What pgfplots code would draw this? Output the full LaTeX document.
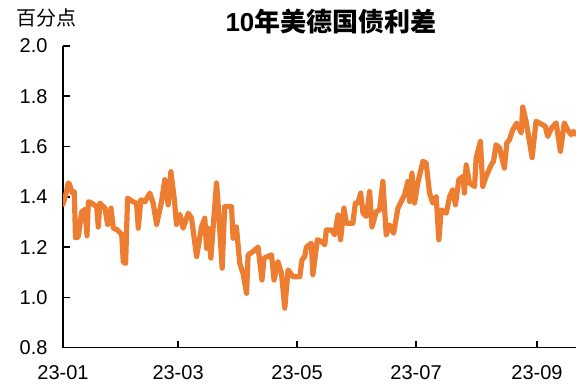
\documentclass[border=0pt]{standalone}
\usepackage{fontspec}
\setmainfont{Liberation Sans}
\newfontfamily\cjk{Noto Sans CJK SC}
\usepackage{pgfplots}
\usepackage{pgfplotstable}
\pgfplotsset{compat=1.18}

\definecolor{spreadorange}{RGB}{237,125,49}

% day = days since 2023-01-01, val = spread in percentage points
\pgfplotstableread{
day val
0 1.37
1.5 1.41
2.7 1.455
3.3 1.45
4.8 1.415
5.8 1.42
6.4 1.237
7.8 1.24
9.6 1.34
11.3 1.35
12.3 1.245
13 1.38
14.7 1.375
17.3 1.36
18.1 1.28
18.9 1.375
21.5 1.355
22.9 1.29
24.6 1.355
25.8 1.275
27.5 1.27
30.1 1.25
30.9 1.14
32.1 1.135
33.1 1.395
36 1.38
37.7 1.375
38.6 1.275
39.9 1.388
42 1.38
44.5 1.415
46.2 1.375
48 1.29
50.5 1.38
52.2 1.468
53.9 1.368
55.3 1.50
57 1.395
58.2 1.29
59.9 1.33
61.6 1.275
64.2 1.335
65.9 1.315
68.5 1.162
71 1.28
72.7 1.315
73.6 1.195
74.4 1.275
75.8 1.156
78.7 1.455
79.5 1.375
81.6 1.116
82.9 1.361
86.4 1.361
87.2 1.235
88.9 1.28
90.6 1.136
92.3 1.096
94.1 1.016
94.9 1.169
97.4 1.182
100 1.20
102 1.069
103.1 1.156
106.9 1.169
108.2 1.069
110.2 1.142
112 1.096
113.7 0.957
115.4 1.109
117.9 1.082
121.4 1.082
122.5 1.149
123.9 1.162
124.8 1.20
127.3 1.215
128.1 1.09
130.4 1.229
132.5 1.222
134.2 1.209
135 1.268
137.6 1.268
139.3 1.249
141 1.328
142.3 1.229
144 1.355
145.3 1.295
148.6 1.295
149.9 1.375
151.2 1.375
152.6 1.415
153.8 1.335
155.5 1.322
157.2 1.421
158.4 1.28
160.6 1.341
162.3 1.348
164 1.461
165.7 1.249
167.4 1.288
169.5 1.255
171.7 1.355
173.4 1.381
175.1 1.408
176.8 1.461
177.7 1.381
178.9 1.494
180.2 1.375
181.9 1.455
184.5 1.541
186.2 1.534
187.9 1.415
189.6 1.375
191.3 1.401
192.7 1.229
193.9 1.348
196.5 1.335
198.2 1.401
199.8 1.428
201.2 1.368
202.9 1.468
205 1.481
205.8 1.415
206.7 1.527
208.4 1.455
211 1.441
211.8 1.554
214 1.620
215.2 1.441
216.9 1.481
219.5 1.527
220.7 1.541
222 1.607
223.8 1.594
226.3 1.514
227.5 1.614
228.9 1.627
230.6 1.667
232.6 1.693
234.9 1.654
235.7 1.757
237.4 1.70
240.5 1.556
242.5 1.70
245.1 1.69
247.3 1.68
248.5 1.640
250.5 1.674
252.8 1.694
255 1.581
257 1.694
258.7 1.667
260.5 1.647
261.6 1.660
262.7 1.65
}\spread

\begin{document}
\begin{tikzpicture}
\path[use as bounding box] (-63pt,-37.4pt) rectangle (513pt,347.6pt);
\begin{axis}[
  at={(0,0)}, anchor=south west,
  scale only axis,
  width=513pt, height=301.6pt,
  xmin=0, xmax=263,
  ymin=0.8, ymax=2.0,
  axis x line=bottom, axis y line=left,
  axis line style={-, line width=1.6pt, black},
  xtick={0,59,120,181,243},
  xticklabels={23-01,23-03,23-05,23-07,23-09},
  ytick={0.8,1.0,1.2,1.4,1.6,1.8,2.0},
  tick align=inside,
  major tick length=7pt,
  tick style={line width=1.6pt, black},
  /pgf/number format/assume math mode=true,
  /pgf/number format/fixed,
  /pgf/number format/fixed zerofill,
  /pgf/number format/precision=1,
  ticklabel style={font=\fontsize{20}{24}\selectfont},
  xticklabel style={yshift=-14pt},
  yticklabel style={xshift=-12pt},
  clip=true,
]
\addplot[spreadorange, line width=5.2pt, line join=round, line cap=round] table[x=day, y=val] {\spread};
\end{axis}
\node[font=\fontsize{20}{24}\selectfont\cjk] at (-16pt,329.6pt) {百分点};
\node[font=\fontsize{26}{30}\selectfont\bfseries] at (268pt,325.6pt) {10{\cjk 年美德国债利差}};
\end{tikzpicture}
\end{document}
